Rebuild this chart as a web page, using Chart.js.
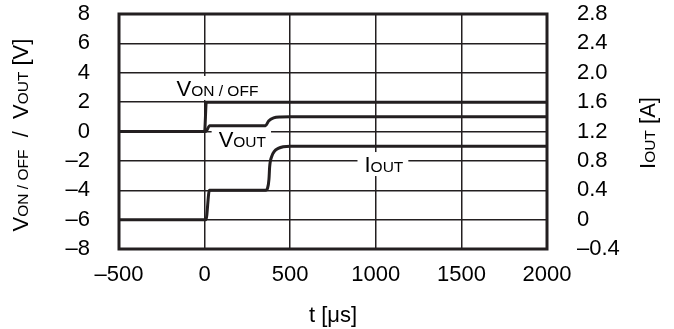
<!DOCTYPE html>
<html>
<head>
<meta charset="utf-8">
<script src="https://cdn.jsdelivr.net/npm/chart.js@4"></script>
<style>
  html, body { margin: 0; padding: 0; background: #fff; }
  #chart { display: block; }
</style>
</head>
<body>
<canvas id="chart" width="674" height="329"></canvas>
<script>
// time axis in microseconds
var tOnOff = [-500, 0, 10, 2000];
var vOnOff = [0, 0, 2, 2];

var tVout = [-500, 6, 30, 356, 374, 403, 443, 500, 2000];
var vOut = [0, 0, 0.4, 0.4, 0.72, 0.93, 0.99, 1.0, 1.0];

var tIout = [-500, 8, 28, 356, 368, 376, 380, 392, 430, 500, 2000];
var iOut = [0, 0, 0.4, 0.4, 0.43, 0.55, 0.72, 0.86, 0.97, 1.0, 1.0];

var xTicks = [-500, 0, 500, 1000, 1500, 2000];
var vTicks = [-8, -6, -4, -2, 0, 2, 4, 6, 8];
var iTicks = [-0.4, 0, 0.4, 0.8, 1.2, 1.6, 2.0, 2.4, 2.8];

var ink = '#231f20';
var fontFamily = "'Liberation Sans', Arial, sans-serif";

function toPoints(xs, ys) {
    return xs.map(function (x, i) { return {x: x, y: ys[i]}; });
}

function dash(v) {
    return v < 0 ? '\u2013' + (-v) : String(v);
}

function richWidth(ctx, parts) {
    var w = 0;
    parts.forEach(function (p) {
        ctx.font = p[1] + 'px ' + fontFamily;
        w += ctx.measureText(p[0]).width;
    });
    return w;
}

function drawRich(ctx, parts, x, y) {
    ctx.textBaseline = 'alphabetic';
    ctx.textAlign = 'left';
    parts.forEach(function (p) {
        ctx.font = p[1] + 'px ' + fontFamily;
        ctx.fillText(p[0], x, y);
        x += ctx.measureText(p[0]).width;
    });
}

var big = 22, small = 15.5;
var labels = [
    {parts: [['V', big], ['ON / OFF', small]], t: -164, v: 2.42},
    {parts: [['V', big], ['OUT', small]], t: 82, v: -1.05},
    {parts: [['I', big], ['OUT', small]], t: 934, v: -2.76}
];

var annotate = {
    id: 'annotate',
    beforeDatasetsDraw: function (chart) {
        var ctx = chart.ctx, xs = chart.scales.x, ys = chart.scales.y;
        ctx.save();
        ctx.fillStyle = '#fff';
        labels.forEach(function (l) {
            var x = xs.getPixelForValue(l.t), y = ys.getPixelForValue(l.v);
            var w = richWidth(ctx, l.parts);
            ctx.fillRect(x - 7, y - 20, w + 12, 24);
        });
        // plot frame
        var a = chart.chartArea;
        ctx.strokeStyle = ink;
        ctx.lineWidth = 3;
        ctx.strokeRect(a.left, a.top, a.right - a.left, a.bottom - a.top);
        ctx.restore();
    },
    afterDatasetsDraw: function (chart) {
        var ctx = chart.ctx, xs = chart.scales.x, ys = chart.scales.y, a = chart.chartArea;
        ctx.save();
        ctx.fillStyle = '#000';
        labels.forEach(function (l) {
            drawRich(ctx, l.parts, xs.getPixelForValue(l.t), ys.getPixelForValue(l.v));
        });

        // left axis title
        var left = [['V', big], ['ON / OFF', small], ['  /  ', big], ['V', big], ['OUT', small], [' [V]', big]];
        var w = richWidth(ctx, left);
        ctx.save();
        ctx.translate(28, 135);
        ctx.rotate(-Math.PI / 2);
        drawRich(ctx, left, -w / 2, 0);
        ctx.restore();

        // right axis title
        var right = [['I', big], ['OUT', small], [' [A]', big]];
        w = richWidth(ctx, right);
        ctx.save();
        ctx.translate(655, 133);
        ctx.rotate(-Math.PI / 2);
        drawRich(ctx, right, -w / 2, 0);
        ctx.restore();

        // bottom title
        var bottom = [['t [\u03bcs]', big]];
        w = richWidth(ctx, bottom);
        drawRich(ctx, bottom, (a.left + a.right) / 2 - w / 2, 322);
        ctx.restore();
    }
};

function lineSet(label, data, axis) {
    return {
        label: label,
        data: data,
        yAxisID: axis,
        borderColor: ink,
        borderWidth: 3,
        pointRadius: 0,
        fill: false,
        cubicInterpolationMode: 'monotone'
    };
}

function fixedTicks(list) {
    return function (s) { s.ticks = list.map(function (v) { return {value: v}; }); };
}

var tickFont = {family: fontFamily, size: 22};

new Chart(document.getElementById('chart'), {
    type: 'line',
    data: {
        datasets: [
            lineSet('VON/OFF', toPoints(tOnOff, vOnOff), 'y'),
            lineSet('VOUT', toPoints(tVout, vOut), 'y'),
            lineSet('IOUT', toPoints(tIout, iOut), 'y2')
        ]
    },
    plugins: [annotate],
    options: {
        responsive: false,
        animation: false,
        layout: {padding: {top: 14, left: 0, right: 0, bottom: 0}},
        plugins: {legend: {display: false}, tooltip: {enabled: false}},
        scales: {
            x: {
                type: 'linear',
                min: -500,
                max: 2000,
                afterFit: function (s) { s.height = 80; s.paddingLeft = 0; s.paddingRight = 0; },
                afterBuildTicks: fixedTicks(xTicks),
                border: {display: false},
                grid: {color: ink, lineWidth: 1.5, drawTicks: false},
                ticks: {color: '#000', font: tickFont, padding: 13, maxRotation: 0, autoSkip: false, callback: dash}
            },
            y: {
                position: 'left',
                min: -8,
                max: 8,
                afterFit: function (s) { s.width = 119; s.paddingTop = 0; s.paddingBottom = 0; },
                afterBuildTicks: fixedTicks(vTicks),
                border: {display: false},
                grid: {color: ink, lineWidth: 1.5, drawTicks: false},
                ticks: {color: '#000', font: tickFont, padding: 29, autoSkip: false, callback: dash}
            },
            y2: {
                position: 'right',
                min: -0.4,
                max: 2.8,
                afterFit: function (s) { s.width = 127; s.paddingTop = 0; s.paddingBottom = 0; },
                afterBuildTicks: fixedTicks(iTicks),
                border: {display: false},
                grid: {display: false, drawTicks: false},
                ticks: {
                    color: '#000',
                    font: tickFont,
                    padding: 30,
                    autoSkip: false,
                    callback: function (v) {
                        if (Math.abs(v) < 1e-9) return '0';
                        return (v < 0 ? '\u2013' : '') + Math.abs(v).toFixed(1);
                    }
                }
            }
        }
    }
});
</script>
</body>
</html>
